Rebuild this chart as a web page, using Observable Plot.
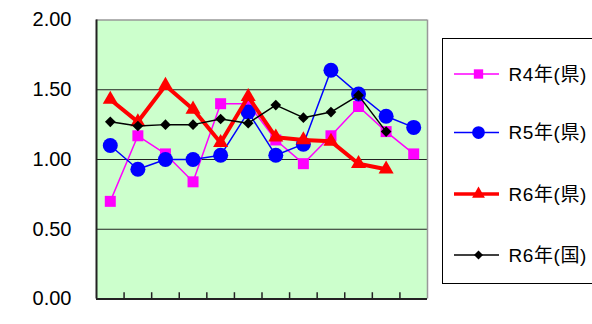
<!DOCTYPE html>
<html>
<head>
<meta charset="utf-8">
<script src="https://cdn.jsdelivr.net/npm/d3@7"></script>
<script src="https://cdn.jsdelivr.net/npm/@observablehq/plot@0.6"></script>
<style>
  html, body { margin: 0; padding: 0; background: #fff; overflow: hidden; }
  #wrap { position: relative; width: 592px; height: 324px; font-family: "Liberation Sans", "Noto Sans CJK JP", Arial, sans-serif; }
  #legend { position: absolute; left: 442px; top: 38px; width: 200px; height: 246px; border: 1px solid #000; box-sizing: border-box; background: #fff; }
  #legend svg { position: absolute; left: 0; top: 0; }
</style>
</head>
<body>
<div id="wrap"><div id="chart"></div><div id="legend"></div></div>
<script>
// Categories (12 periods, unlabeled on the axis)
const categories = ["4月","5月","6月","7月","8月","9月","10月","11月","12月","1月","2月","3月"];
const seriesNames = ["R4年(県)", "R5年(県)", "R6年(県)", "R6年(国)"];
const r4Pref = [0.70, 1.17, 1.04, 0.84, 1.40, 1.40, 1.14, 0.97, 1.17, 1.38, 1.20, 1.04];
const r5Pref = [1.10, 0.93, 1.00, 1.00, 1.03, 1.34, 1.03, 1.11, 1.64, 1.47, 1.31, 1.23];
const r6Pref = [1.43, 1.27, 1.53, 1.36, 1.12, 1.45, 1.16, 1.14, 1.13, 0.97, 0.93, null];
const r6Nat  = [1.27, 1.24, 1.25, 1.25, 1.29, 1.26, 1.39, 1.30, 1.34, 1.46, 1.20, null];
const yTicks = [0, 0.5, 1.0, 1.5, 2.0];

const seriesStyle = [
  {values: r4Pref, color: "#ff00ff", symbol: "square", r: 6.2, width: 1.5},
  {values: r5Pref, color: "#0000ff", symbol: "circle", r: 7.5, width: 1.5},
  {values: r6Pref, color: "#ff0000", symbol: "triangle", r: 5.6, width: 4},
  {values: r6Nat,  color: "#000000", symbol: "diamond2", r: 4.8, width: 1.5}
];

const marks = [
  Plot.frame({fill: "#ccffcc", stroke: null}),
  Plot.ruleY([0.5, 1.0, 1.5], {stroke: "#222", strokeWidth: 1.2}),
  Plot.ruleY([2], {stroke: "#999", strokeWidth: 1.5}),
  Plot.ruleX([categories.length + 0.5], {stroke: "#999", strokeWidth: 1.5}),
  Plot.ruleX([0.5], {stroke: "#222", strokeWidth: 2}),
  Plot.ruleY([0], {stroke: "#222", strokeWidth: 2}),
  Plot.ruleX(d3.range(1, categories.length).map(i => i + 0.5), {y1: 0, y2: 0.045, stroke: "#222", strokeWidth: 1.5}),
  Plot.axisY(yTicks, {tickFormat: d3.format(".2f"), tickSize: 0, tickPadding: 25, fontSize: 20, fill: "#000", label: null})
];

seriesStyle.forEach((s, k) => {
  const data = categories.map((c, i) => ({cat: c, x: i + 1, y: s.values[i], series: seriesNames[k]}))
    .filter(d => d.y != null);
  marks.push(Plot.line(data, {x: "x", y: "y", stroke: s.color, strokeWidth: s.width}));
  marks.push(Plot.dot(data, {x: "x", y: "y", fill: s.color, stroke: null, symbol: s.symbol, r: s.r}));
});

const chart = Plot.plot({
  width: 592,
  height: 324,
  marginLeft: 96,
  marginRight: 165,
  marginTop: 19.5,
  marginBottom: 25.5,
  style: {fontFamily: '"Liberation Sans", "Noto Sans CJK JP", Arial, sans-serif', background: "transparent", overflow: "visible"},
  x: {domain: [0.5, categories.length + 0.5], axis: null},
  y: {domain: [0, 2], axis: null, label: null},
  marks
});
document.getElementById("chart").appendChild(chart);

// Legend
const legend = d3.select("#legend");
const lsvg = legend.append("svg").attr("width", 200).attr("height", 246);
const symbolMap = {square: d3.symbolSquare, circle: d3.symbolCircle, triangle: d3.symbolTriangle, diamond2: d3.symbolDiamond2};
const rowY = [35, 93.5, 155, 216];
seriesStyle.forEach((s, k) => {
  const g = lsvg.append("g").attr("transform", `translate(0,${rowY[k]})`);
  g.append("line").attr("x1", 11).attr("x2", 56).attr("y1", 0).attr("y2", 0)
    .attr("stroke", s.color).attr("stroke-width", s.width === 4 ? 3.5 : 1.5);
  const rr = s.r * 0.85;
  g.append("path").attr("transform", "translate(35.5,0)")
    .attr("d", d3.symbol(symbolMap[s.symbol], Math.PI * rr * rr)())
    .attr("fill", s.color);
  g.append("text").attr("x", 65.5).attr("y", 0).attr("dy", "0.36em")
    .attr("font-size", 19).attr("letter-spacing", "0.6px").attr("fill", "#000")
    .attr("font-family", '"Liberation Sans", "Noto Sans CJK JP", Arial, sans-serif')
    .text(seriesNames[k]);
});
</script>
</body>
</html>
